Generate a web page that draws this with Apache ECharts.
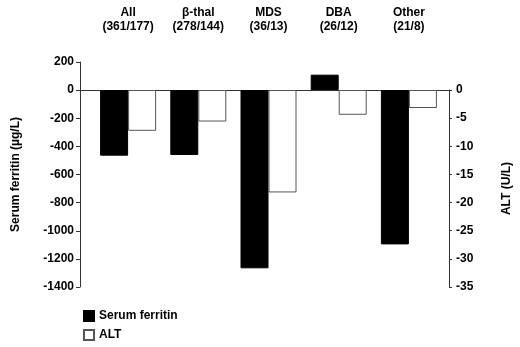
<!DOCTYPE html>
<html>
<head>
<meta charset="utf-8">
<script src="https://cdn.jsdelivr.net/npm/echarts@6/dist/echarts.min.js"></script>
<style>
  html, body { margin: 0; padding: 0; background: #fff; }
  #chart { width: 520px; height: 347px; }
</style>
</head>
<body>
<div id="chart"></div>
<script>
// groups and patient counts (ferritin / ALT)
var groups = ['All', 'β-thal', 'MDS', 'DBA', 'Other'];
var counts = ['361/177', '278/144', '36/13', '26/12', '21/8'];
// change in serum ferritin (µg/L)
var ferritin = [-466, -461, -1267, 110, -1097];
// change in ALT (U/L)
var alt = [-7.25, -5.6, -18.2, -4.4, -3.2];
var leftTicks = { min: -1400, max: 200, interval: 200 };
var rightTicks = { min: -35, max: 0, interval: 5 };

var labels = [];
for (var i = 0; i < groups.length; i++) {
    labels.push(groups[i] + '\n(' + counts[i] + ')');
}
var empty = groups.map(function () { return null; });

var font = 'Liberation Sans, Arial, sans-serif';
var axisColor = '#333';
function plain(v) { return String(v); }

var chart = echarts.init(document.getElementById('chart'), null, { renderer: 'canvas' });
var option = {
    animation: false,
    textStyle: { fontFamily: font, color: '#000' },
    legend: {
        orient: 'vertical',
        left: 83,
        top: 310,
        padding: 0,
        itemWidth: 10,
        itemHeight: 10,
        itemGap: 7,
        icon: 'rect',
        textStyle: { fontSize: 12, color: '#000', fontFamily: font, fontWeight: 'bold' },
        data: ['Serum ferritin', 'ALT']
    },
    grid: [
        { left: 93, right: 76, top: 62, bottom: 60, outerBoundsMode: 'none' },
        { left: 93, right: 76, top: 90, bottom: 60, outerBoundsMode: 'none' },
        { left: 80, right: 70, top: 90, bottom: 60, outerBoundsMode: 'none' }
    ],
    xAxis: [
        {
            gridIndex: 0,
            type: 'category',
            data: labels,
            position: 'top',
            axisLine: { show: false, onZero: false },
            axisTick: { show: false },
            axisLabel: {
                margin: 28,
                fontSize: 12,
                lineHeight: 14,
                color: '#000',
                fontWeight: 'bold',
                fontFamily: font
            }
        },
        {
            gridIndex: 1,
            type: 'category',
            data: groups,
            show: false
        },
        {
            gridIndex: 2,
            type: 'category',
            data: groups,
            position: 'top',
            axisLine: { show: true, onZero: false, lineStyle: { color: axisColor, width: 1 } },
            axisTick: { show: false },
            axisLabel: { show: false }
        }
    ],
    yAxis: [
        {
            gridIndex: 0,
            type: 'value',
            position: 'left',
            offset: 13,
            min: leftTicks.min,
            max: leftTicks.max,
            interval: leftTicks.interval,
            name: 'Serum ferritin (µg/L)',
            nameLocation: 'middle',
            nameGap: 58,
            nameTextStyle: { fontSize: 12, color: '#000', fontWeight: 'bold', fontFamily: font },
            axisLine: { show: true, lineStyle: { color: axisColor } },
            axisTick: { show: true, length: 4, lineStyle: { color: axisColor } },
            axisLabel: { fontSize: 12, color: '#000', margin: 6, fontWeight: 'bold', fontFamily: font, formatter: plain },
            splitLine: { show: false }
        },
        {
            gridIndex: 1,
            type: 'value',
            position: 'right',
            offset: 5,
            min: rightTicks.min,
            max: rightTicks.max,
            interval: rightTicks.interval,
            name: 'ALT (U/L)',
            nameLocation: 'middle',
            nameGap: 52,
            nameRotate: 90,
            nameTextStyle: { fontSize: 12, color: '#000', fontWeight: 'bold', fontFamily: font },
            axisLine: { show: true, lineStyle: { color: axisColor } },
            axisTick: { show: true, length: 3, lineStyle: { color: axisColor } },
            axisLabel: { fontSize: 12, color: '#000', margin: 7, fontWeight: 'bold', fontFamily: font, formatter: plain },
            splitLine: { show: false }
        },
        {
            gridIndex: 2,
            type: 'value',
            show: false
        }
    ],
    series: [
        {
            name: 'Serum ferritin',
            type: 'bar',
            xAxisIndex: 0,
            yAxisIndex: 0,
            barWidth: 28,
            barGap: 0,
            itemStyle: { color: '#000', borderColor: '#000', borderWidth: 1 },
            data: ferritin
        },
        {
            name: 'ALT slot',
            type: 'bar',
            xAxisIndex: 0,
            yAxisIndex: 0,
            barWidth: 28,
            barGap: 0,
            data: empty
        },
        {
            name: 'Ferritin slot',
            type: 'bar',
            xAxisIndex: 1,
            yAxisIndex: 1,
            barWidth: 28,
            barGap: 0,
            data: empty
        },
        {
            name: 'ALT',
            type: 'bar',
            xAxisIndex: 1,
            yAxisIndex: 1,
            barWidth: 28,
            barGap: 0,
            itemStyle: { color: '#fff', borderColor: '#555', borderWidth: 1 },
            data: alt
        }
    ]
};
chart.setOption(option);
</script>
</body>
</html>
